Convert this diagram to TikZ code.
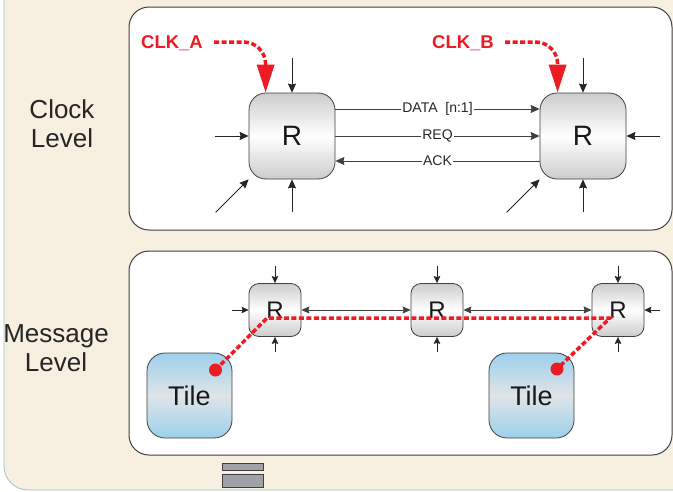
\documentclass[tikz,border=0pt]{standalone}
\usepackage{fontspec}
\setmainfont{Liberation Sans}
\usepackage{xcolor}
\usepackage{tikz}
\usetikzlibrary{arrows.meta, positioning, calc}
\definecolor{bgbeige}{RGB}{247, 239, 224}
\definecolor{edgeteal}{RGB}{150, 200, 200}
\definecolor{framegray}{RGB}{64, 64, 64}
\definecolor{clkred}{RGB}{237, 28, 36}
\definecolor{routergray}{RGB}{204, 204, 204}
\definecolor{tileblue}{RGB}{156, 208, 236}
\definecolor{tilemid}{RGB}{224, 228, 232}
\definecolor{barfill}{RGB}{160, 162, 168}

\begin{document}
\begin{tikzpicture}[
    x=1pt, y=-1pt,
    panel/.style={draw=framegray, line width=1pt, fill=white, rounded corners=20pt},
    router/.style={draw=framegray, line width=0.8pt, rounded corners=17pt, minimum width=86pt, minimum height=86pt, top color=routergray, bottom color=routergray, middle color=white, text=black!90, font=\fontsize{28}{30}\selectfont},
    smallrouter/.style={router, rounded corners=10pt, minimum width=52pt, minimum height=53pt, font=\fontsize{24}{26}\selectfont},
    tile/.style={draw=framegray, line width=0.8pt, rounded corners=18pt, minimum width=85pt, minimum height=85pt, top color=tileblue, bottom color=tileblue, middle color=tilemid, text=black!90, font=\fontsize{27}{29}\selectfont},
    level/.style={align=center, text=black!85, font=\fontsize{26}{29}\selectfont},
    clklabel/.style={text=clkred, inner sep=0pt, text depth=0pt, font=\bfseries\fontsize{18.5}{20}\selectfont},
    clkarrow/.style={-{Triangle[length=28pt, width=17pt]}, clkred, line width=3.5pt, dash pattern=on 5pt off 2.5pt, rounded corners=22pt, shorten <=11pt},
    msgpath/.style={clkred, line width=3.5pt, dash pattern=on 5pt off 2.5pt},
    inarrow/.style={-{Stealth[length=9pt, width=8pt, inset=1pt]}, line width=0.8pt, black!85},
    smallarrow/.style={-{Stealth[length=7pt, width=6.5pt, inset=1pt]}, line width=0.8pt, black!85},
    biarrow/.style={{Stealth[length=8pt, width=7pt, inset=1pt]}-{Stealth[length=8pt, width=7pt, inset=1pt]}, line width=0.8pt, black!75},
    sig/.style={inarrow, black!75},
    siglabel/.style={fill=white, inner sep=1pt, text=black!85, font=\fontsize{14}{16}\selectfont},
    bar/.style={draw=black!75, line width=1pt, fill=barfill}
]
    \useasboundingbox (0,0) rectangle (673,491);
    \clip (0,0) rectangle (673,491);

    % Background
    \fill[white] (0,0) rectangle (673,491);
    \draw[fill=bgbeige, draw=edgeteal, line width=0.8pt, rounded corners=24pt] (4,-30) -- (4,490) -- (700,490) -- (700,-30) -- cycle;

    % Panels
    \draw[panel] (129,7) rectangle (672,230);
    \draw[panel] (129,251) rectangle (672,455);

    % Level labels
    \node[level] (clocklevel) at (62,124) {Clock\\Level};
    \node[level] (msglevel) at (56,348) {Message\\Level};

    % Clock level routers
    \node[router] (ra) at (292,136) {R};
    \node[router] (rb) at (583,136) {R};

    % Signals between routers
    \draw[sig] ([yshift=27pt]ra.east) -- ([yshift=27pt]rb.west) node[midway, siglabel] {DATA\ \ [n:1]};
    \draw[sig] (ra.east) -- (rb.west) node[midway, siglabel] {REQ};
    \draw[sig] ([yshift=-25pt]rb.west) -- ([yshift=-25pt]ra.east) node[midway, siglabel] {ACK};

    % Inputs around the clock level routers
    \foreach \r in {ra, rb} {
        \coordinate (\r-n) at ([yshift=35pt]\r.north);
        \coordinate (\r-s) at ([yshift=-33pt]\r.south);
        \coordinate (\r-sw) at ([xshift=-33pt, yshift=-33pt]\r.south west);
        \draw[inarrow] (\r-n) -- (\r.north);
        \draw[inarrow] (\r-s) -- (\r.south);
        \draw[inarrow] (\r-sw) -- (\r.south west);
    }
    \coordinate (ra-w) at ([xshift=-34pt]ra.west);
    \coordinate (rb-e) at ([xshift=34pt]rb.east);
    \draw[inarrow] (ra-w) -- (ra.west);
    \draw[inarrow] (rb-e) -- (rb.east);

    % Clocks
    \node[clklabel] (clka) at (172,42) {CLK\_A};
    \node[clklabel] (clkb) at (463,42) {CLK\_B};
    \coordinate (ra-clk) at ([xshift=17pt]ra.north west);
    \coordinate (rb-clk) at ([xshift=18pt]rb.north west);
    \draw[clkarrow] (clka.east) -| (ra-clk);
    \draw[clkarrow] (clkb.east) -| (rb-clk);

    % Message level routers and tiles
    \node[smallrouter] (ma) at (275,310) {R};
    \node[smallrouter] (mb) at (437,310) {R};
    \node[smallrouter] (mc) at (618,310) {R};
    \node[tile] (ta) at (189.5,395.5) {Tile};
    \node[tile] (tb) at (531.5,395.5) {Tile};

    \draw[biarrow] (ma) -- (mb);
    \draw[biarrow] (mb) -- (mc);

    % Inputs around the message level routers
    \foreach \r in {ma, mb, mc} {
        \coordinate (\r-n) at ([yshift=17pt]\r.north);
        \coordinate (\r-s) at ([yshift=-15pt]\r.south);
        \draw[smallarrow] (\r-n) -- (\r.north);
        \draw[smallarrow] (\r-s) -- (\r.south);
    }
    \coordinate (ma-w) at ([xshift=-17pt]ma.west);
    \coordinate (mc-e) at ([xshift=16pt]mc.east);
    \draw[smallarrow] (ma-w) -- (ma.west);
    \draw[smallarrow] (mc-e) -- (mc.east);

    % Message path
    \coordinate (ta-dot) at ([xshift=26pt, yshift=25.5pt]ta.center);
    \coordinate (tb-dot) at ([xshift=25.5pt, yshift=26.5pt]tb.center);
    \coordinate (ma-turn) at ([xshift=-8pt, yshift=-8pt]ma.center);
    \coordinate (mc-turn) at ([xshift=-8pt, yshift=-8pt]mc.center);
    \draw[msgpath] (ta-dot) -- (ma-turn) -- (mc-turn) -- (tb-dot);
    \fill[clkred] (ta-dot) circle (6.5pt);
    \fill[clkred] (tb-dot) circle (6.5pt);

    % Bars
    \draw[bar] (222,463) rectangle (263,470);
    \draw[bar] (222,474) rectangle (263,487);

\end{tikzpicture}
\end{document}
